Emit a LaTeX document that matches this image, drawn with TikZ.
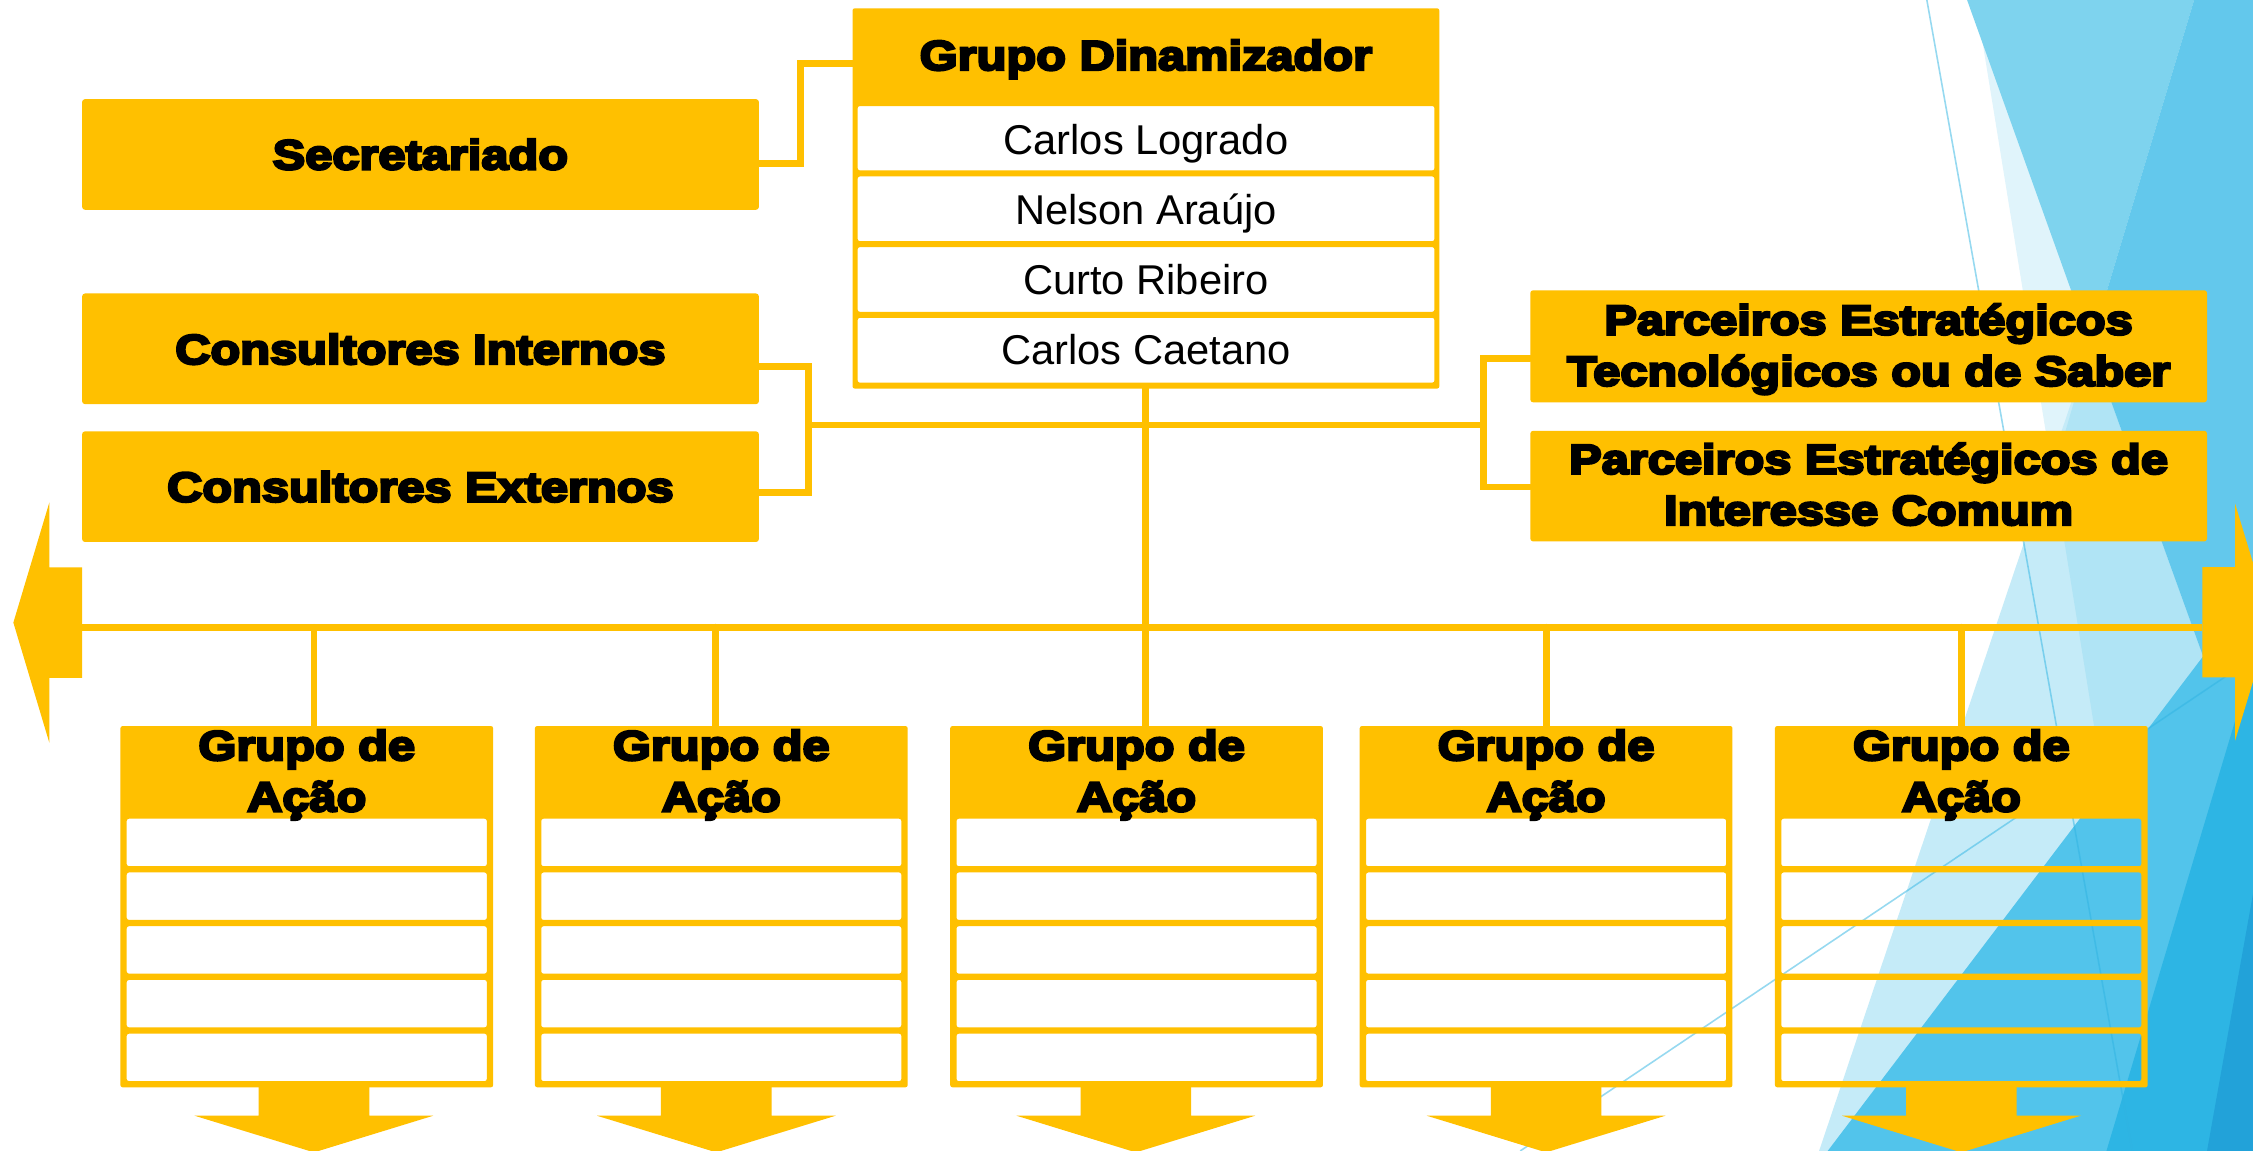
\documentclass[tikz,border=0pt]{standalone}
\usepackage{fontspec}
\setmainfont{Liberation Sans}
\newfontfamily\hfont[FakeStretch=1.17,FakeBold=6]{Liberation Sans Bold}
\usetikzlibrary{calc}
\definecolor{gold}{HTML}{FFC000}
\definecolor{bgpale}{HTML}{E0F4FB}
\definecolor{bglight}{HTML}{C5EBF8}
\definecolor{bglightb}{HTML}{B0E4F5}
\definecolor{bgmed}{HTML}{7ED3EE}
\definecolor{bgdark}{HTML}{63C8EC}
\definecolor{bgblue}{HTML}{52C4EB}
\definecolor{bgdeep}{HTML}{2DB5E4}
\definecolor{bgdeepest}{HTML}{22A2D9}
\definecolor{bgline}{HTML}{2FB4E3}
\tikzset{
  conn/.style={draw=gold, line width=4.6pt, line cap=round},
  panel/.style={fill=gold, rounded corners=2pt, inner sep=0pt, minimum width=471pt, minimum height=77pt},
  htext/.style={font=\hfont\fontsize{29pt}{35.6pt}\selectfont, text=black, inner sep=0pt, anchor=base},
  ntext/.style={font=\fontsize{29pt}{35pt}\selectfont, text=black, inner sep=0pt, anchor=base},
  frame/.style={fill=gold, even odd rule, rounded corners=1.5pt},
  bgthin/.style={draw=bgline, draw opacity=0.5, line width=1.1pt},
}
\begin{document}
\begin{tikzpicture}[x=1pt,y=-1pt]
\useasboundingbox (0,0) rectangle (1568,801);
\begin{scope}
\clip (0,0) rectangle (1568,801);
\fill[white] (0,0) rectangle (1568,801);
% background facets
\fill[bgpale] (1375,0) -- (1568,0) -- (1568,801) -- (1505,801) -- cycle;
\fill[bglight] (1455,240) -- (1266,801) -- (1568,801) -- (1568,553) -- cycle;
\fill[bglightb] (1429,329) -- (1455,240) -- (1568,553) -- (1568,801) -- (1505,801) -- cycle;
\fill[bgmed] (1369,0) -- (1527,0) -- (1455,240) -- cycle;
\fill[bgdark] (1527,0) -- (1568,0) -- (1568,553) -- (1455,240) -- cycle;
\fill[bgblue] (1272,801) -- (1568,411) -- (1568,801) -- cycle;
\fill[bgdeep] (1466,801) -- (1568,460) -- (1568,801) -- cycle;
\fill[bgdeepest] (1536,801) -- (1568,622) -- (1568,801) -- cycle;
\draw[bgthin] (1341,0) -- (1484,801);
\draw[bgthin] (1058,801) -- (1568,458);

% side panels
\node[panel] (sec) at (292.65,107.5) {};
\node[htext] (secT) at (292.6,117.8) {Secretariado};
\node[panel] (ci) at (292.65,242.75) {};
\node[htext] (ciT) at (292.6,253.3) {Consultores Internos};
\node[panel] (ce) at (292.65,338.7) {};
\node[htext] (ceT) at (292.6,349.1) {Consultores Externos};
\node[panel, minimum height=78pt] (pt) at (1300.5,241) {};
\node[htext] (ptT1) at (1300.5,232.8) {Parceiros Estratégicos};
\node[htext] (ptT2) at (1300.5,268.4) {Tecnológicos ou de Saber};
\node[panel] (pi) at (1300.5,338.3) {};
\node[htext] (piT1) at (1300.5,329.7) {Parceiros Estratégicos de};
\node[htext] (piT2) at (1300.5,365.3) {Interesse Comum};

% Grupo Dinamizador
\node[inner sep=0pt, minimum width=408pt, minimum height=264.2pt] (din) at (797.5,138.1) {};
\fill[frame] (din.north west) rectangle (din.south east)
  (596.9,73.8) rectangle (998.3,118.6)
  (596.9,122.8) rectangle (998.3,167.8)
  (596.9,172) rectangle (998.3,217)
  (596.9,221.2) rectangle (998.3,266.3);
\node[htext] (dinT) at (797.5,48.7) {Grupo Dinamizador};
\node[ntext] (n1) at (797.5,107.2) {Carlos Logrado};
\node[ntext] (n2) at (797.5,155.9) {Nelson Araújo};
\node[ntext] (n3) at (797.5,205.3) {Curto Ribeiro};
\node[ntext] (n4) at (797.5,254.0) {Carlos Caetano};

% connectors top
\draw[conn] (sec.east |- 0,113.7) -| (557.2,44) -- (din.west |- 0,44);
\draw[conn] (ci.east |- 0,255.2) -| (562.8,342.6) -- (ce.east |- 0,342.6);
\coordinate (hubL) at (562.8,295.8);
\coordinate (hubR) at (1032.5,295.8);
\draw[conn] (hubL) -- (hubR);
\draw[conn] (pt.west |- 0,249.3) -| (1032.5,339) -- (pi.west |- 0,339);

% Grupos de Acao
\foreach \i/\cx/\dx/\ax in {1/213.5/218.5/218.5, 2/502/498/498.5, 3/791/797/790.5, 4/1076/1076.5/1076, 5/1365/1365/1365}{
  \node[inner sep=0pt, minimum width=259pt, minimum height=251pt] (g\i) at (\cx,631) {};
  \fill[frame] (g\i.north west) rectangle (g\i.south east)
    \foreach \k in {0,...,4}{ ($(g\i.north west)+(4.4,64.5+37.4*\k)$) rectangle ($(g\i.north east)+(-4.4,97.5+37.4*\k)$) };
  \begin{scope}
    \clip (g\i.north west) rectangle ($(g\i.north east)+(0,66.5)$);
    \node[htext] (ga\i) at (\cx,529) {Grupo de};
    \node[htext] (gb\i) at (\cx,564.6) {Ação};
  \end{scope}
  \draw[conn] (\dx,436.5) -- (g\i.north -| \dx,0);
  \fill[gold] (\ax-38.5,755) -- (\ax+38.5,755) -- (\ax+38.5,776.5) -- (\ax+83,776.5)
     -- (\ax,802) -- (\ax-83,776.5) -- (\ax-38.5,776.5) -- cycle;
}

% trunk and bus
\draw[conn] (din.south -| 797,0) -- (g3.north -| 797,0);
\coordinate (busL) at (57.1,436.5);
\coordinate (busR) at (1532.7,436.5);
\draw[conn, line cap=butt] (busL) -- (busR);
\fill[gold] (57.1,394.8) -- (34.3,394.8) -- (34.3,349.8) -- (9.3,433.3) -- (34.3,516.8)
   -- (34.3,471.8) -- (57.1,471.8) -- cycle;
\fill[gold] (1532.7,394.7) -- (1555.5,394.7) -- (1555.5,350.5) -- (1580.5,433) -- (1555.5,515.5)
   -- (1555.5,471.5) -- (1532.7,471.5) -- cycle;
\end{scope}
\end{tikzpicture}
\end{document}
